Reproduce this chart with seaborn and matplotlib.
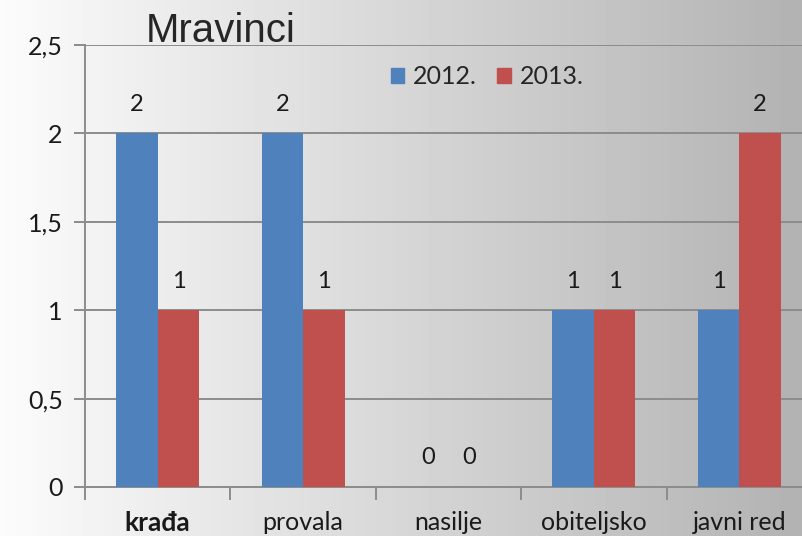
import numpy as np
import pandas as pd
import matplotlib.pyplot as plt
import seaborn as sns

# Data
categories = ['krađa', 'provala', 'nasilje', 'obiteljsko', 'javni red']
values_2012 = [2, 2, 0, 1, 1]
values_2013 = [1, 1, 0, 1, 2]
years = ['2012.', '2013.']
y_ticks = [0, 0.5, 1, 1.5, 2, 2.5]
y_tick_labels = ['0', '0,5', '1', '1,5', '2', '2,5']

df = pd.DataFrame({
    'kategorija': categories * 2,
    'godina': [years[0]] * len(categories) + [years[1]] * len(categories),
    'broj': values_2012 + values_2013,
})

sns.set_style('white')
plt.rcParams['font.family'] = ['Lato', 'DejaVu Sans']

fig = plt.figure(figsize=(8.02, 5.36), dpi=100)

# gradient background, white on the left to grey on the right
bg = fig.add_axes([0, 0, 1, 1], zorder=-5)
grad = np.linspace(0.985, 0.70, 256).reshape(1, -1)
bg.imshow(grad, aspect='auto', cmap='gray', vmin=0, vmax=1, extent=[0, 1, 0, 1])
bg.axis('off')

ax = fig.add_axes([85 / 802, 49 / 536, 727 / 802, 442 / 536])
ax.set_facecolor('none')

colors = {'2012.': '#4F81BD', '2013.': '#C0504D'}
sns.barplot(data=df, x='kategorija', y='broj', hue='godina', hue_order=years,
            palette=colors, width=0.57, linewidth=0, saturation=1, ax=ax,
            legend=False, zorder=3)

# value labels above bars
for cont in ax.containers:
    for bar in cont:
        h = bar.get_height()
        ax.annotate(f'{int(h)}', (bar.get_x() + bar.get_width() / 2, h),
                    xytext=(0, 21), textcoords='offset points',
                    ha='center', va='center', fontsize=17, color='#1a1a1a')

ax.set_xlim(-0.5, 4.5)
ax.set_ylim(0, 2.5)
ax.set_yticks(y_ticks)
ax.set_yticklabels(y_tick_labels, fontsize=18, color='#1a1a1a')
ax.yaxis.grid(True, color='#8c8c8c', linewidth=1.4, zorder=0)
ax.set_axisbelow(True)

ax.set_xticks(range(len(categories)))
ax.set_xticklabels(categories, fontsize=18, color='#1a1a1a')
ax.get_xticklabels()[0].set_fontweight('bold')
ax.get_xticklabels()[0].set_fontsize(19)
ax.tick_params(axis='x', which='major', bottom=True, length=0, pad=17)
ax.set_xticks(np.arange(-0.5, 4.6, 1), minor=True)
ax.tick_params(axis='x', which='minor', bottom=True, length=9, width=1.4,
               color='#8c8c8c', direction='out')
ax.tick_params(axis='y', left=True, length=8, width=1.4, color='#8c8c8c',
               direction='out', pad=8)

for side in ['top', 'right']:
    ax.spines[side].set_visible(False)
for side in ['left', 'bottom']:
    ax.spines[side].set_color('#8c8c8c')
    ax.spines[side].set_linewidth(1.4)

ax.set_xlabel('')
ax.set_ylabel('')

handles = [plt.Rectangle((0, 0), 1, 1, color=colors[y]) for y in years]
fig.legend(handles, years, loc='center', bbox_to_anchor=(487 / 802, 1 - 77 / 536),
           ncol=2, frameon=False, fontsize=18, handlelength=0.55, handleheight=0.55,
           handletextpad=0.35, columnspacing=0.8)

fig.text(146 / 802, 1 - 42 / 536, 'Mravinci', fontsize=29,
         family=['Liberation Sans', 'DejaVu Sans'], va='baseline', ha='left')

fig.savefig('out.png', dpi=100)
